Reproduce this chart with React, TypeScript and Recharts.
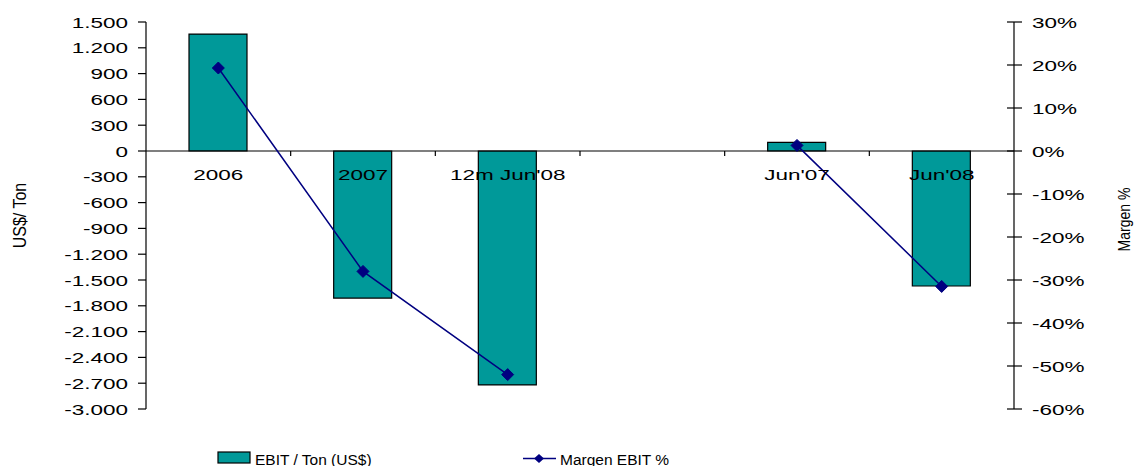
import React from 'react';
import { ComposedChart, Bar, Line, XAxis, YAxis, ReferenceLine, Legend } from 'recharts';

const categories = ['2006', '2007', "12m Jun'08", '', "Jun'07", "Jun'08"];
const ebitPerTon = [1360, -1710, -2720, null, 100, -1570];
const margenEbit = [19.3, -28.0, -52.0, null, 1.3, -31.5];
const leftTicks = [1500, 1200, 900, 600, 300, 0, -300, -600, -900, -1200, -1500, -1800, -2100, -2400, -2700, -3000];
const rightTicks = [30, 20, 10, 0, -10, -20, -30, -40, -50, -60];

const data = categories.map((cat, i) => ({ cat, ebit: ebitPerTon[i], margen: margenEbit[i] }));

const W = 1134;
const H = 466;
const PLOT_LEFT = 146;
const PLOT_RIGHT = 1014;
const PLOT_TOP = 22;
const PLOT_BOTTOM = 409;
const Y_MAX = 1500;
const Y_MIN = -3000;
const FONT = '"Liberation Sans", Arial, sans-serif';
const STRETCH = 1.5;

const zeroY = PLOT_TOP + (PLOT_BOTTOM - PLOT_TOP) * (Y_MAX / (Y_MAX - Y_MIN));
const band = (PLOT_RIGHT - PLOT_LEFT) / categories.length;

const fmtThousands = (v: number) => {
  const s = Math.abs(v).toString();
  const withDots = s.replace(/\B(?=(\d{3})+(?!\d))/g, '.');
  return (v < 0 ? '-' : '') + withDots;
};

const LeftTick = (props: any) => {
  const { y, payload } = props;
  return (
    <g>
      <line x1={PLOT_LEFT - 8} x2={PLOT_LEFT} y1={y} y2={y} stroke="#000" strokeWidth={1.2} />
      <text
        transform={`translate(${PLOT_LEFT - 18},${y + 5.5}) scale(${STRETCH},1)`}
        textAnchor="end"
        fontFamily={FONT}
        fontSize={15}
        fill="#000"
      >
        {fmtThousands(payload.value)}
      </text>
    </g>
  );
};

const RightTick = (props: any) => {
  const { y, payload } = props;
  return (
    <g>
      <line x1={PLOT_RIGHT - 7} x2={PLOT_RIGHT + 8} y1={y} y2={y} stroke="#000" strokeWidth={1.2} />
      <text
        transform={`translate(${PLOT_RIGHT + 18},${y + 5.5}) scale(${STRETCH},1)`}
        textAnchor="start"
        fontFamily={FONT}
        fontSize={15}
        fill="#000"
      >
        {`${payload.value}%`}
      </text>
    </g>
  );
};

const CatTick = (props: any) => {
  const { x, payload, index } = props;
  return (
    <g>
      {index < categories.length - 1 && (
        <line x1={x + band / 2} x2={x + band / 2} y1={zeroY} y2={zeroY + 5} stroke="#000" strokeWidth={1.2} />
      )}
      {payload.value !== '' && (
        <text
          transform={`translate(${x},${zeroY + 29}) scale(${STRETCH},1)`}
          textAnchor="middle"
          fontFamily={FONT}
          fontSize={15}
          fill="#000"
        >
          {payload.value}
        </text>
      )}
    </g>
  );
};

const Diamond = (props: any) => {
  const { cx, cy, index } = props;
  if (cx == null || cy == null || isNaN(cx) || isNaN(cy)) return <g key={`d${index}`} />;
  const r = 6;
  return (
    <polygon
      key={`d${index}`}
      points={`${cx},${cy - r} ${cx + r},${cy} ${cx},${cy + r} ${cx - r},${cy}`}
      fill="#000080"
      stroke="#000080"
    />
  );
};

const LeftTitle = () => {
  const cx = 20;
  const cy = (PLOT_TOP + PLOT_BOTTOM) / 2;
  return (
    <text
      transform={`translate(${cx},${cy}) scale(1.15,1) rotate(-90)`}
      textAnchor="middle"
      dominantBaseline="central"
      fontFamily={FONT}
      fontSize={16}
      fill="#000"
    >
      US$/ Ton
    </text>
  );
};

const RightTitle = () => {
  const cx = 1124;
  const cy = (PLOT_TOP + PLOT_BOTTOM) / 2 + 4;
  return (
    <text
      transform={`translate(${cx},${cy}) scale(1.15,1) rotate(-90)`}
      textAnchor="middle"
      dominantBaseline="central"
      fontFamily={FONT}
      fontSize={14}
      fill="#000"
    >
      Margen %
    </text>
  );
};

const LegendContent = () => (
  <svg width={W} height={20} style={{ display: 'block' }}>
    <rect x={218} y={6} width={32} height={11} fill="#009999" stroke="#000" strokeWidth={1.2} />
    <text x={255} y={18.5} fontFamily={FONT} fontSize={15.5} fill="#000">
      EBIT / Ton (US$)
    </text>
    <line x1={523} x2={556} y1={12.5} y2={12.5} stroke="#000080" strokeWidth={1.5} />
    <polygon points="539,8 544,12.5 539,17 534,12.5" fill="#000080" />
    <text x={560} y={18.5} fontFamily={FONT} fontSize={15.5} fill="#000">
      Margen EBIT %
    </text>
  </svg>
);

export default function App() {
  return (
    <div style={{ position: 'absolute', left: 0, top: 0, width: W, height: H, background: '#fff' }}>
      <ComposedChart
        width={W}
        height={H}
        data={data}
        margin={{ top: PLOT_TOP, right: 0, left: 0, bottom: H - PLOT_BOTTOM - 1 }}
        barGap={0}
      >
        <XAxis
          dataKey="cat"
          height={1}
          interval={0}
          axisLine={false}
          tickLine={false}
          tick={CatTick}
        />
        <YAxis
          yAxisId="left"
          width={PLOT_LEFT}
          domain={[Y_MIN, Y_MAX]}
          ticks={leftTicks}
          interval={0}
          allowDataOverflow
          axisLine={{ stroke: '#000', strokeWidth: 1.2 }}
          tickLine={false}
          tick={LeftTick}
          label={{ content: LeftTitle }}
        />
        <YAxis
          yAxisId="right"
          orientation="right"
          width={W - PLOT_RIGHT}
          domain={[-60, 30]}
          ticks={rightTicks}
          interval={0}
          allowDataOverflow
          axisLine={{ stroke: '#000', strokeWidth: 1.2 }}
          tickLine={false}
          tick={RightTick}
          label={{ content: RightTitle }}
        />
        <ReferenceLine yAxisId="left" y={0} stroke="#000" strokeWidth={1.2} />
        <Bar
          yAxisId="left"
          dataKey="ebit"
          name="EBIT / Ton (US$)"
          fill="#009999"
          stroke="#000"
          strokeWidth={1.2}
          barSize={58}
          isAnimationActive={false}
        />
        <Line
          yAxisId="right"
          dataKey="margen"
          name="Margen EBIT %"
          type="linear"
          stroke="#000080"
          strokeWidth={1.5}
          dot={Diamond}
          activeDot={false}
          connectNulls={false}
          isAnimationActive={false}
        />
        <Legend
          layout="vertical"
          align="center"
          verticalAlign="middle"
          content={LegendContent}
          wrapperStyle={{ position: 'absolute', left: 0, top: 446, width: W, height: 20 }}
        />
      </ComposedChart>
    </div>
  );
}
